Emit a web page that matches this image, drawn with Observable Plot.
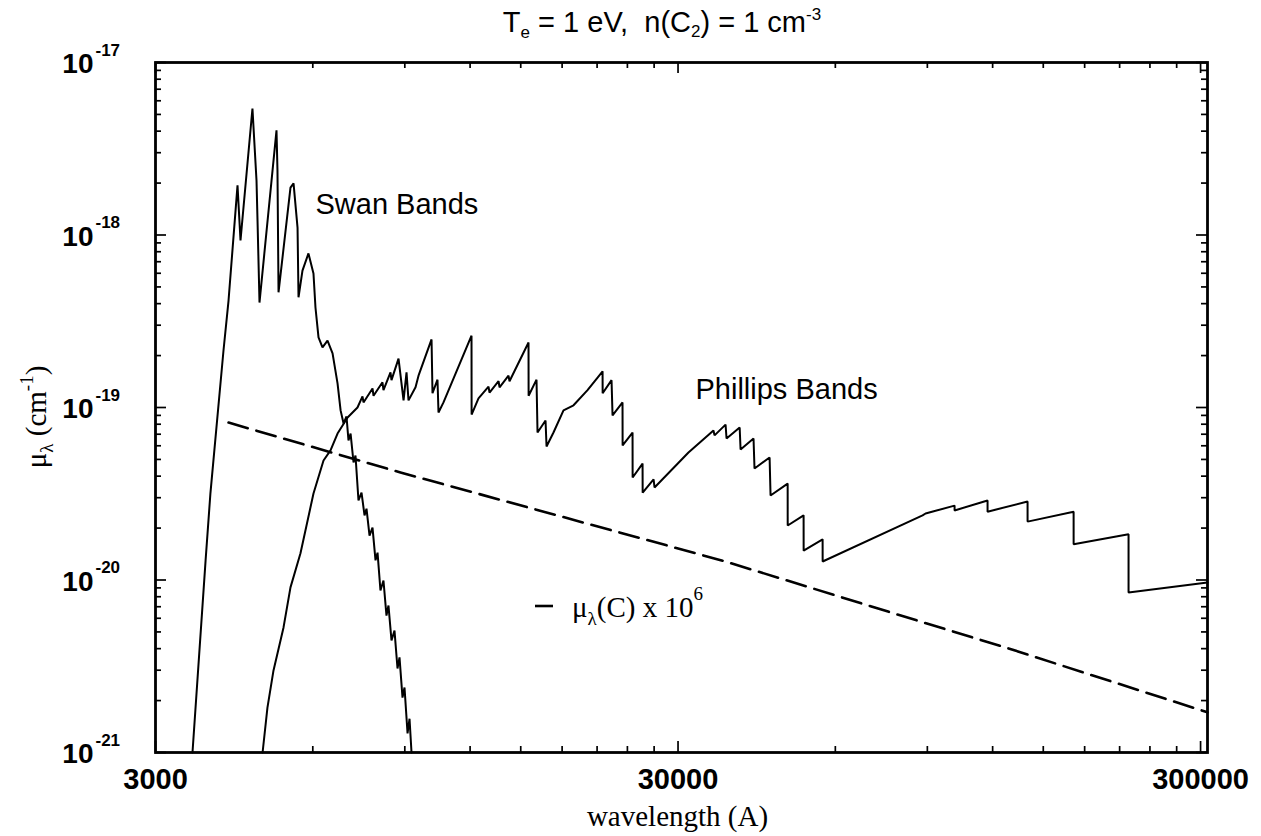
<!DOCTYPE html>
<html>
<head>
<meta charset="utf-8">
<script src="https://cdn.jsdelivr.net/npm/d3@7"></script>
<script src="https://cdn.jsdelivr.net/npm/@observablehq/plot@0.6"></script>
<style>
  html, body { margin: 0; padding: 0; background: #fff; }
  #chart svg { display: block; }
</style>
</head>
<body>
<div id="chart"></div>
<script>
// ---------- data ----------
// Swan bands of C2 (wavelength in Angstrom, absorption coefficient in cm^-1)
const swanWavelength = [3531, 3741, 3821, 4048, 4139, 4306, 4363, 4599, 4682, 4703, 4744, 5113, 5135, 5159,
  5438, 5512, 5610, 5634, 5733, 5886, 6018, 6071, 6153, 6262, 6402, 6546, 6691, 6782, 6871, 6961, 7022,
  7087, 7180, 7242, 7338, 7437, 7536, 7602, 7704, 7806, 7910, 7981, 8084, 8192, 8301, 8375, 8487, 8600,
  8715, 8792, 8909, 8988, 9109, 9189, 9270];
const swanMu = [1.0e-21, 1.30e-20, 3.17e-20, 2.14e-19, 4.17e-19, 1.94e-18, 9.29e-19, 5.41e-18, 2.07e-18,
  1.21e-18, 4.06e-19, 4.04e-18, 2.37e-18, 4.65e-19, 1.88e-18, 1.99e-18, 1.10e-18, 4.35e-19, 6.22e-19,
  7.82e-19, 5.98e-19, 3.80e-19, 2.55e-19, 2.23e-19, 2.44e-19, 2.06e-19, 1.38e-19, 9.62e-20, 8.07e-20,
  8.87e-20, 6.44e-20, 7.06e-20, 4.80e-20, 5.27e-20, 2.89e-20, 3.21e-20, 2.37e-20, 2.59e-20, 1.81e-20,
  2.01e-20, 1.30e-20, 1.44e-20, 8.69e-21, 9.93e-21, 6.22e-21, 7.11e-21, 4.46e-21, 5.09e-21, 3.07e-21,
  3.56e-21, 2.08e-21, 2.38e-21, 1.29e-21, 1.57e-21, 1.0e-21];

// Phillips bands of C2
const phillipsWavelength = [4809, 4913, 5046, 5274, 5438, 5683, 6018, 6290, 6487, 6691, 6994, 7306, 7469,
  7502, 7806, 7841, 8156, 8192, 8450, 8487, 8754, 8950, 9068, 9148, 9435, 9560, 10125, 10168, 10394, 10440,
  10672, 12075, 12080, 12452, 13015, 13072, 13603, 13663, 14213, 14276, 15523, 15530, 16080, 16151, 16732,
  16806, 17328, 18110, 18929, 20133, 21046, 21514, 21520, 22380, 22479, 23490, 23500, 24551, 24560, 25659,
  25670, 26936, 27048, 31410, 35070, 35235, 36990, 37150, 39360, 39520, 41840, 42020, 44910, 45100, 48630,
  48640, 52170, 52180, 56730, 56740, 88130, 89300, 101470, 101480, 117340, 117350, 139970, 139980, 171460,
  171470, 218420, 218430, 309300];
const phillipsMu = [1.0e-21, 1.82e-21, 2.99e-21, 5.31e-21, 9.06e-21, 1.43e-20, 3.17e-20, 4.93e-20, 5.64e-20,
  7.06e-20, 8.75e-20, 1.00e-19, 1.16e-19, 1.07e-19, 1.29e-19, 1.17e-19, 1.40e-19, 1.26e-19, 1.60e-19,
  1.44e-19, 1.92e-19, 1.10e-19, 1.60e-19, 1.10e-19, 1.31e-19, 1.53e-19, 2.48e-19, 1.21e-19, 1.45e-19,
  9.35e-20, 1.07e-19, 2.61e-19, 9.10e-20, 1.13e-19, 1.32e-19, 1.22e-19, 1.42e-19, 1.31e-19, 1.53e-19,
  1.42e-19, 2.38e-19, 1.17e-19, 1.45e-19, 7.16e-20, 8.41e-20, 5.94e-20, 7.16e-20, 9.62e-20, 1.03e-19,
  1.26e-19, 1.49e-19, 1.62e-19, 1.21e-19, 1.44e-19, 9.0e-20, 1.07e-19, 6.03e-20, 7.16e-20, 3.93e-20,
  4.73e-20, 3.21e-20, 3.83e-20, 3.44e-20, 5.48e-20, 7.36e-20, 6.89e-20, 7.96e-20, 6.61e-20, 7.66e-20,
  5.71e-20, 6.61e-20, 4.43e-20, 5.13e-20, 3.09e-20, 3.62e-20, 2.07e-20, 2.37e-20, 1.48e-20, 1.72e-20,
  1.28e-20, 2.37e-20, 2.43e-20, 2.70e-20, 2.53e-20, 2.89e-20, 2.49e-20, 2.85e-20, 2.18e-20, 2.49e-20,
  1.61e-20, 1.84e-20, 8.47e-21, 9.68e-21];

// Atomic carbon, mu_lambda(C) x 10^6 (dashed)
const carbonWavelength = [4139, 8831, 36990, 76540, 128740, 309300];
const carbonMu = [8.18e-20, 4.20e-20, 1.28e-20, 6.49e-21, 4.01e-21, 1.71e-21];

// axis ticks and labels
const xTickLabels = [3000, 30000, 300000];
const xMinorTicks = [6000, 9000, 12000, 15000, 18000, 21000, 24000, 27000,
  60000, 90000, 120000, 150000, 180000, 210000, 240000, 270000];
const yTickValues = [1e-21, 1e-20, 1e-19, 1e-18, 1e-17];
const yTickExponents = ["-21", "-20", "-19", "-18", "-17"];
const yMinorMultipliers = [2, 3, 4, 5, 6, 7, 8, 9];

// ---------- tables ----------
const swan = swanWavelength.map((w, i) => ({w, mu: swanMu[i]}));
const phillips = phillipsWavelength.map((w, i) => ({w, mu: phillipsMu[i]}));
const carbon = carbonWavelength.map((w, i) => ({w, mu: carbonMu[i]}));
const yMinorTicks = yTickValues.slice(0, -1).flatMap(v => yMinorMultipliers.map(m => m * v));
const yTicks = yTickValues.map((v, i) => ({v, e: yTickExponents[i]}));

// ---------- layout ----------
const W = 1261, H = 836;
const mL = 155, mR = 54, mT = 62, mB = 84;
const innerW = W - mL - mR, innerH = H - mT - mB;
const sans = "'Liberation Sans', Arial, Helvetica, sans-serif";
const serif = "'Liberation Serif', 'Times New Roman', Times, serif";

const chart = Plot.plot({
  width: W, height: H,
  marginLeft: mL, marginRight: mR, marginTop: mT, marginBottom: mB,
  x: {type: "log", domain: [3000, 309300], axis: null},
  y: {type: "log", domain: [1e-21, 1e-17], axis: null},
  style: {background: "white", color: "black", fontFamily: sans},
  marks: [
    Plot.line(carbon, {x: "w", y: "mu", stroke: "black", strokeWidth: 2.6, strokeDasharray: "20,9"}),
    Plot.line(swan, {x: "w", y: "mu", stroke: "black", strokeWidth: 2, strokeLinejoin: "miter"}),
    Plot.line(phillips, {x: "w", y: "mu", stroke: "black", strokeWidth: 2, strokeLinejoin: "miter"}),
    // inward ticks on all four sides
    Plot.tickX(xMinorTicks, {x: d => d, insetTop: innerH - 6, stroke: "black", strokeWidth: 1.7}),
    Plot.tickX(xMinorTicks, {x: d => d, insetBottom: innerH - 6, stroke: "black", strokeWidth: 1.7}),
    Plot.tickX(xTickLabels, {x: d => d, insetTop: innerH - 11, stroke: "black", strokeWidth: 1.7}),
    Plot.tickX(xTickLabels, {x: d => d, insetBottom: innerH - 11, stroke: "black", strokeWidth: 1.7}),
    Plot.tickY(yMinorTicks, {y: d => d, insetRight: innerW - 6, stroke: "black", strokeWidth: 1.7}),
    Plot.tickY(yMinorTicks, {y: d => d, insetLeft: innerW - 6, stroke: "black", strokeWidth: 1.7}),
    Plot.tickY(yTickValues, {y: d => d, insetRight: innerW - 11, stroke: "black", strokeWidth: 1.7}),
    Plot.tickY(yTickValues, {y: d => d, insetLeft: innerW - 11, stroke: "black", strokeWidth: 1.7}),
    Plot.frame({stroke: "black", strokeWidth: 2.8}),
    // x tick labels
    Plot.text(xTickLabels, {x: d => d, text: d => String(d), frameAnchor: "bottom", lineAnchor: "bottom",
      dy: 36, fontSize: 29, fontWeight: "bold", fontFamily: sans, fill: "black"}),
    // y tick labels: 10 with superscript exponent
    Plot.text(yTicks, {y: "v", text: () => "10", frameAnchor: "left", textAnchor: "end", lineAnchor: "bottom",
      dx: -62, dy: 10.5, fontSize: 28, fontWeight: "bold", fontFamily: sans, fill: "black"}),
    Plot.text(yTicks, {y: "v", text: "e", frameAnchor: "left", textAnchor: "start", lineAnchor: "bottom",
      dx: -60, dy: -7, fontSize: 17, fontWeight: "bold", fontFamily: sans, fill: "black"}),
    // x axis title
    Plot.text(["wavelength (A)"], {text: d => d, frameAnchor: "bottom", lineAnchor: "bottom",
      dx: -4, dy: 73, fontSize: 29, fontFamily: serif, fill: "black"}),
    // band annotations
    Plot.text(["Swan Bands"], {text: d => d, frameAnchor: "top-left", textAnchor: "start", lineAnchor: "bottom",
      dx: 160, dy: 151, fontSize: 29, fontFamily: sans, fill: "black"}),
    Plot.text(["Phillips Bands"], {text: d => d, frameAnchor: "top-left", textAnchor: "start", lineAnchor: "bottom",
      dx: 540, dy: 336, fontSize: 29, fontFamily: sans, fill: "black"})
  ]
});

document.getElementById("chart").appendChild(chart);

// ---------- rich text (sub/superscripts) ----------
const svg = d3.select(chart);
const g = svg.append("g").attr("fill", "black").attr("stroke", "none");

// title
const title = g.append("text")
  .attr("x", 662).attr("y", 32)
  .attr("text-anchor", "middle")
  .attr("font-family", sans).attr("font-size", 29);
title.append("tspan").text("T");
title.append("tspan").attr("font-size", 17).attr("dy", 6).text("e");
title.append("tspan").attr("dy", -6).text(" = 1 eV,\u00a0\u00a0n(C");
title.append("tspan").attr("font-size", 17).attr("dy", 5).text("2");
title.append("tspan").attr("dy", -5).text(") = 1 cm");
title.append("tspan").attr("font-size", 17).attr("dy", -12).text("-3");

// y axis title (rotated)
const ylab = g.append("text")
  .attr("transform", "translate(46,417) rotate(-90)")
  .attr("text-anchor", "middle")
  .attr("font-family", serif).attr("font-size", 29);
ylab.append("tspan").text("\u03bc");
ylab.append("tspan").attr("font-size", 19).attr("dy", 7).text("\u03bb");
ylab.append("tspan").attr("dy", -7).text(" (cm");
ylab.append("tspan").attr("font-size", 19).attr("dy", -13).text("-1");
ylab.append("tspan").attr("dy", 13).text(")");

// legend for the dashed curve
g.append("line")
  .attr("x1", 535).attr("x2", 553).attr("y1", 606).attr("y2", 606)
  .attr("stroke", "black").attr("stroke-width", 2.6);
const leg = g.append("text")
  .attr("x", 572).attr("y", 617)
  .attr("text-anchor", "start")
  .attr("font-family", serif).attr("font-size", 29);
leg.append("tspan").text("\u03bc");
leg.append("tspan").attr("font-size", 19).attr("dy", 8).text("\u03bb");
leg.append("tspan").attr("dy", -8).text("(C) x 10");
leg.append("tspan").attr("font-size", 19).attr("dy", -17).text("6");
</script>
</body>
</html>
